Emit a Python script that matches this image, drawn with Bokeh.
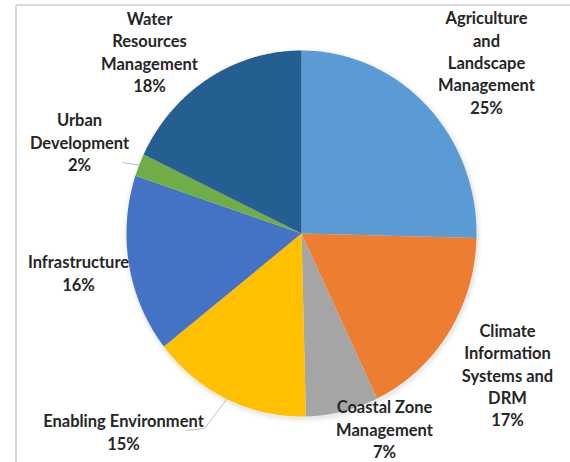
import numpy as np
from bokeh.plotting import figure
from bokeh.models import Range1d, ColumnDataSource
from bokeh.core.properties import value
from bokeh.embed import file_html
from bokeh.resources import INLINE

# ---- data ----
categories = [
    "Agriculture and Landscape Management",
    "Climate Information Systems and DRM",
    "Coastal Zone Management",
    "Enabling Environment",
    "Infrastructure",
    "Urban Development",
    "Water Resources Management",
]
wrapped_names = [
    "Agriculture\nand\nLandscape\nManagement",
    "Climate\nInformation\nSystems and\nDRM",
    "Coastal Zone\nManagement",
    "Enabling Environment",
    "Infrastructure",
    "Urban\nDevelopment",
    "Water\nResources\nManagement",
]
values = [25.4, 17.5, 6.7, 14.8, 15.7, 2.0, 17.9]
pct_labels = ["25%", "17%", "7%", "15%", "16%", "2%", "18%"]
colors = ["#5B9BD5", "#ED7D31", "#A5A5A5", "#FFC000", "#4472C4", "#70AD47", "#255E91"]

# ---- layout (pixel-like data units, y downward) ----
W, H = 570, 462
OFF = 0
CX, CY = 301 - OFF, 233 - OFF
RX, RY = 175, 183
LINE = 22.3
label_pos = [(486, 62.5), (507, 375), (384, 429), (123, 432), (78, 273), (79, 142), (149, 52)]

p = figure(width=W, height=H, x_range=Range1d(0, W), y_range=Range1d(H, 0),
           output_backend="svg", toolbar_location=None,
           x_axis_type=None, y_axis_type=None, min_border=0)
p.outline_line_color = None
p.background_fill_color = "white"
p.border_fill_color = "white"
p.grid.visible = False

# frame lines
p.line(x=[15.5 - OFF, 15.5 - OFF], y=[4.5 - OFF, H], line_color="#D9D9D9", line_width=2)
p.line(x=[15.5 - OFF, W], y=[4.5 - OFF, 4.5 - OFF], line_color="#D9D9D9", line_width=2)

# soft shadow
for grow, alpha in [(10, 0.03), (6, 0.05), (3, 0.07)]:
    p.ellipse(x=CX + 1, y=CY + 2, width=2 * RX + grow, height=2 * RY + grow,
              fill_color="#808080", fill_alpha=alpha, line_color=None)

# slices
vals = np.array(values, dtype=float)
cum = np.concatenate([[0.0], np.cumsum(vals / vals.sum())]) * 2 * np.pi
xs, ys = [], []
for i in range(len(vals)):
    t = np.linspace(cum[i], cum[i + 1], 120)
    xs.append(np.concatenate([[CX], CX + RX * np.sin(t), [CX]]))
    ys.append(np.concatenate([[CY], CY - RY * np.cos(t), [CY]]))
src = ColumnDataSource(dict(xs=xs, ys=ys, color=colors, name=categories))
p.patches(xs="xs", ys="ys", fill_color="color", line_color=None, source=src)

# leader lines (edge point at slice mid-angle)
def edge_point(i):
    m = (cum[i] + cum[i + 1]) / 2
    return CX + RX * np.sin(m), CY - RY * np.cos(m)

ux, uy = edge_point(5)
p.line(x=[122 - OFF, ux], y=[162 - OFF, uy], line_color="#BFBFBF", line_width=1)
ex, ey = edge_point(3)
p.line(x=[186 - OFF, 204 - OFF, ex], y=[430 - OFF, 428 - OFF, ey], line_color="#BFBFBF", line_width=1)

# labels
tx, ty, tt = [], [], []
for name, pct, (lx, ly) in zip(wrapped_names, pct_labels, label_pos):
    lines = name.split("\n") + [pct]
    n = len(lines)
    for k, s in enumerate(lines):
        tx.append(lx - OFF)
        ty.append(ly - OFF + (k - (n - 1) / 2) * LINE)
        tt.append(s)
p.text(x=tx, y=ty, text=tt, text_font=value("Lato"), text_font_style="bold",
       text_font_size="16.5px", text_align="center", text_baseline="middle",
       text_color="#262626")

open("out.html", "w").write(file_html(p, INLINE))
